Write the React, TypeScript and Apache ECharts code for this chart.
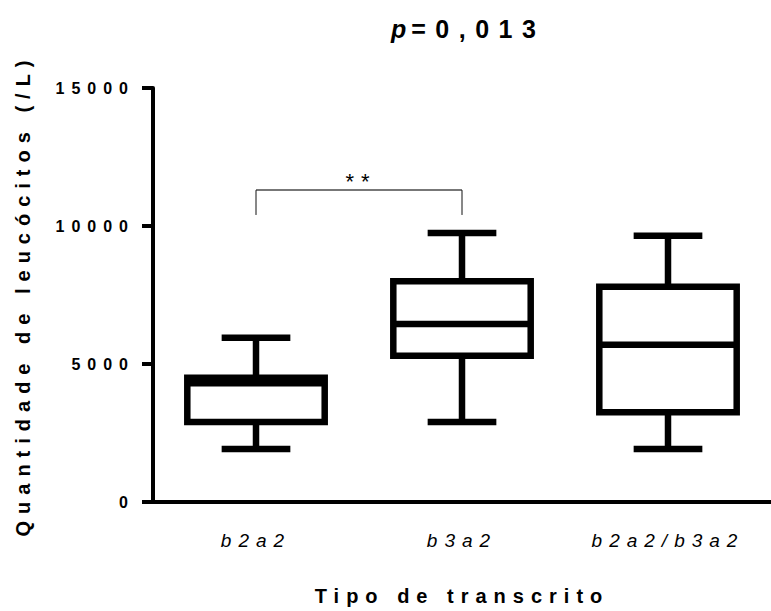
import React, { useEffect, useRef } from "react";
import * as echarts from "echarts";

const categories = ["b2a2", "b3a2", "b2a2/b3a2"];
const whiskerLow = [1920, 2900, 1920];
const quartile1 = [2900, 5300, 3250];
const medians = [4300, 6450, 5700];
const quartile3 = [4500, 8000, 7800];
const whiskerHigh = [5950, 9750, 9650];
const yTicks = [0, 5000, 10000, 15000];

const bracketFrom = [0];
const bracketTo = [1];
const bracketTop = [11300];
const bracketLeg = [10400];
const bracketLabels = ["**"];

const titleP = "p";
const titleRest = "=0,013";
const yTitle = "Quantidade de leucócitos (/L)";
const xTitle = "Tipo de transcrito";

const FONT = "'Liberation Sans', Arial, Helvetica, sans-serif";

export default function App() {
  const ref = useRef<HTMLDivElement>(null);

  useEffect(() => {
    if (!ref.current) return;
    const chart = echarts.init(ref.current, undefined, { renderer: "svg" });

    const boxData = categories.map((_, i) => [
      i,
      whiskerLow[i],
      quartile1[i],
      medians[i],
      quartile3[i],
      whiskerHigh[i],
    ]);
    const bracketData = bracketFrom.map((f, i) => [f, bracketTo[i], bracketTop[i], bracketLeg[i]]);

    const option: any = {
      animation: false,
      textStyle: { fontFamily: FONT, color: "#000" },
      graphic: [
        {
          type: "text",
          x: 391,
          y: 29,
          style: {
            text: `{p|${titleP}}{n|${titleRest}}`,
            verticalAlign: "middle",
            align: "left",
            rich: {
              p: {
                fontFamily: FONT,
                fontSize: 25,
                fontWeight: "bold",
                fontStyle: "italic",
                fill: "#000",
                padding: [0, 5, 0, 0],
              },
              n: {
                fontFamily: FONT,
                fontSize: 25,
                fontWeight: "bold",
                fill: "#000",
              },
            },
          },
        },
      ],
      grid: { left: 153, top: 88, width: 628, height: 416, containLabel: false },
      xAxis: {
        type: "category",
        data: categories,
        boundaryGap: true,
        name: xTitle,
        nameLocation: "middle",
        nameGap: 84,
        nameTextStyle: { fontSize: 20, fontWeight: "bold", color: "#000", fontFamily: FONT },
        axisLine: { lineStyle: { color: "#000", width: 4 } },
        axisTick: { alignWithLabel: true, length: 11, lineStyle: { color: "#000", width: 4 } },
        axisLabel: {
          fontSize: 19,
          fontStyle: "italic",
          color: "#000",
          fontFamily: FONT,
          margin: 38,
          verticalAlign: "middle",
        },
        splitLine: { show: false },
      },
      yAxis: {
        type: "value",
        min: yTicks[0],
        max: yTicks[yTicks.length - 1],
        interval: yTicks[1] - yTicks[0],
        name: yTitle,
        nameLocation: "middle",
        nameGap: 120,
        nameRotate: 90,
        nameTextStyle: { fontSize: 20, fontWeight: "bold", color: "#000", fontFamily: FONT },
        axisLine: { show: true, lineStyle: { color: "#000", width: 4 } },
        axisTick: { show: true, length: 11, lineStyle: { color: "#000", width: 4 } },
        axisLabel: {
          fontSize: 16,
          fontWeight: "bold",
          color: "#000",
          fontFamily: FONT,
          margin: 18,
          formatter: (v: number) => String(v),
        },
        splitLine: { show: false },
      },
      series: [
        {
          type: "custom",
          data: boxData,
          encode: { x: 0, y: [1, 2, 3, 4, 5] },
          renderItem: (params: any, api: any) => {
            const idx = api.value(0);
            const pMin = api.coord([idx, api.value(1)]);
            const cx = pMin[0];
            const yMin = pMin[1];
            const yQ1 = api.coord([idx, api.value(2)])[1];
            const yMed = api.coord([idx, api.value(3)])[1];
            const yQ3 = api.coord([idx, api.value(4)])[1];
            const yMax = api.coord([idx, api.value(5)])[1];
            const band = api.size([1, 0])[0];
            const bw = band * 0.667;
            const cw = bw / 2;
            const lw = 6.5;
            const st = { stroke: "#000", lineWidth: lw, fill: null, lineCap: "butt" };
            return {
              type: "group",
              children: [
                { type: "line", shape: { x1: cx, y1: yMin, x2: cx, y2: yQ1 }, style: st },
                { type: "line", shape: { x1: cx, y1: yQ3, x2: cx, y2: yMax }, style: st },
                { type: "line", shape: { x1: cx - cw / 2, y1: yMin, x2: cx + cw / 2, y2: yMin }, style: st },
                { type: "line", shape: { x1: cx - cw / 2, y1: yMax, x2: cx + cw / 2, y2: yMax }, style: st },
                {
                  type: "rect",
                  shape: { x: cx - bw / 2, y: yQ3, width: bw, height: yQ1 - yQ3 },
                  style: { fill: "#fff", stroke: "#000", lineWidth: lw, lineJoin: "miter" },
                },
                { type: "line", shape: { x1: cx - bw / 2, y1: yMed, x2: cx + bw / 2, y2: yMed }, style: st },
              ],
            };
          },
        },
        {
          type: "custom",
          data: bracketData,
          encode: { x: [0, 1], y: [2, 3] },
          renderItem: (params: any, api: any) => {
            const pA = api.coord([api.value(0), api.value(2)]);
            const pB = api.coord([api.value(1), api.value(2)]);
            const legY = api.coord([api.value(0), api.value(3)])[1];
            return {
              type: "group",
              children: [
                { type: "line", shape: { x1: pA[0], y1: pA[1], x2: pB[0], y2: pB[1] }, style: { stroke: "#777", lineWidth: 2 } },
                { type: "line", shape: { x1: pA[0], y1: pA[1], x2: pA[0], y2: legY }, style: { stroke: "#111", lineWidth: 1 } },
                { type: "line", shape: { x1: pB[0], y1: pB[1], x2: pB[0], y2: legY }, style: { stroke: "#111", lineWidth: 1 } },
                {
                  type: "text",
                  x: (pA[0] + pB[0]) / 2 + 2,
                  y: pA[1] - 9,
                  style: {
                    text: bracketLabels[params.dataIndex],
                    align: "center",
                    verticalAlign: "middle",
                    fontSize: 22,
                    fontFamily: FONT,
                    fill: "#000",
                  },
                },
              ],
            };
          },
        },
      ],
    };

    chart.setOption(option);
    return () => chart.dispose();
  }, []);

  return (
    <>
      <style>{`
        .ecwrap text { letter-spacing: 7px; }
        .ecwrap text[style*="25px"] { letter-spacing: 9.5px; }
        .ecwrap text[style*="25px"][style*="italic"] { letter-spacing: 0px; }
      `}</style>
      <div
        ref={ref}
        className="ecwrap"
        style={{ position: "absolute", left: 0, top: 0, width: 771, height: 611 }}
      />
    </>
  );
}
